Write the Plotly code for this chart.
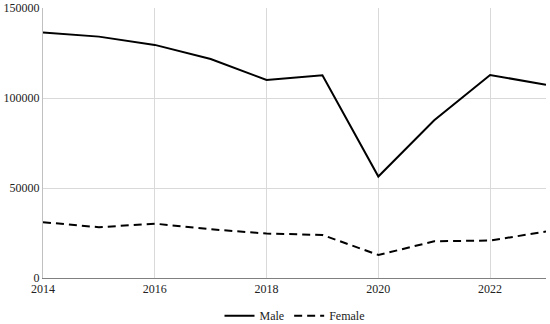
import plotly.graph_objects as go

years = [2014, 2015, 2016, 2017, 2018, 2019, 2020, 2021, 2022, 2023]
male = [136400, 134100, 129500, 121700, 110000, 112600, 56400, 87600, 112800, 107300]
female = [31000, 28200, 30200, 27100, 24700, 23900, 12800, 20400, 20800, 25800]

FONT = "Times New Roman, Liberation Serif, serif"

fig = go.Figure()
fig.add_trace(go.Scatter(x=years, y=male, mode="lines", name="Male",
                         line=dict(color="black", width=2)))
fig.add_trace(go.Scatter(x=years, y=female, mode="lines", name="Female",
                         line=dict(color="black", width=2, dash="8px,5px")))

fig.update_layout(
    width=550, height=324,
    margin=dict(l=43, r=4, t=8, b=46, autoexpand=False),
    paper_bgcolor="white", plot_bgcolor="white",
    font=dict(family=FONT, size=12, color="#222"),
    showlegend=True,
    legend=dict(orientation="h", x=0.5, xanchor="center", y=-0.14, yanchor="middle",
                itemwidth=30, font=dict(family=FONT, size=12)),
    xaxis=dict(range=[2014, 2023], dtick=2, tick0=2014, showgrid=True, gridcolor="#d9d9d9",
               showline=True, linecolor="#808080", ticks="", zeroline=False,
               automargin=False, tickfont=dict(family=FONT, size=12)),
    yaxis=dict(range=[0, 150000], dtick=50000, showgrid=True, gridcolor="#d9d9d9",
               showline=True, linecolor="#c0c0c0", ticks="", zeroline=False,
               automargin=False, tickformat="d", tickfont=dict(family=FONT, size=12)),
)
fig.write_html("out.html",
               config={"displayModeBar": False},
               post_script="document.body.style.margin='0';document.body.style.overflow='hidden';")
